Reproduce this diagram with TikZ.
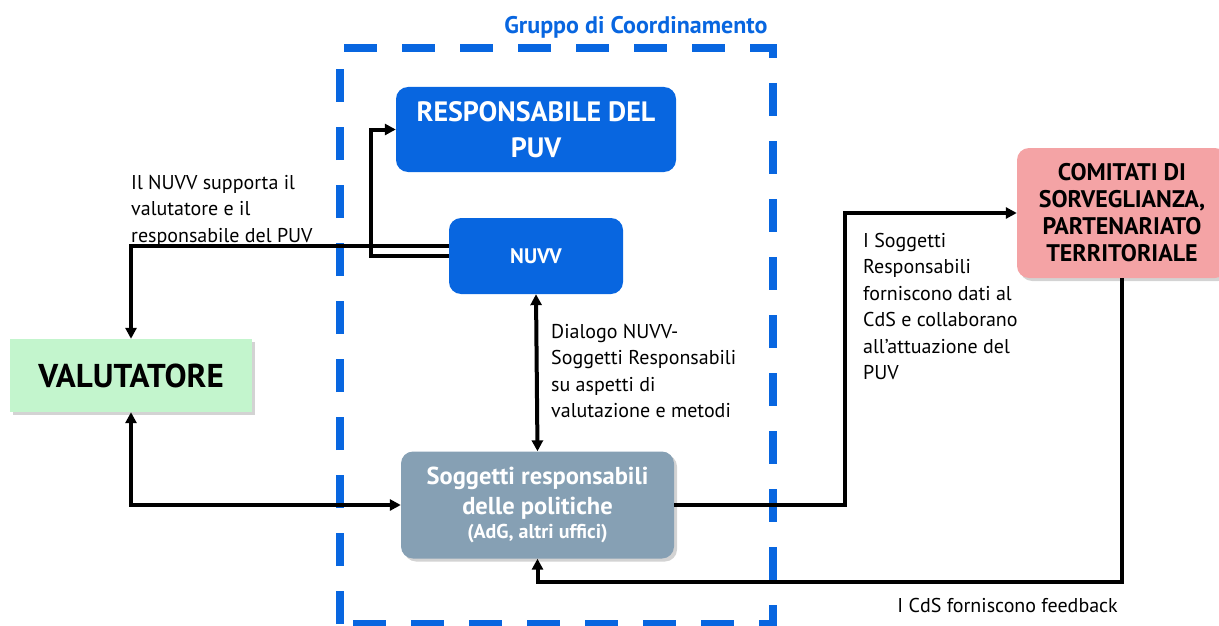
\documentclass[tikz,border=0pt]{standalone}
\usepackage{fontspec}
\setmainfont{PT Sans}
\usepackage{tikz}
\usetikzlibrary{arrows.meta,shadows,positioning}

\definecolor{puvblue}{HTML}{0866E0}
\definecolor{valgreen}{HTML}{C3F5CD}
\definecolor{sogggray}{HTML}{86A0B4}
\definecolor{cdspink}{HTML}{F4A3A5}

\begin{document}
\begin{tikzpicture}[x=1pt,y=-1pt,
    box/.style={rounded corners=12pt,inner sep=0pt,align=center,font=\bfseries},
    bluebox/.style={box,fill=puvblue,text=white},
    shade/.style={drop shadow={shadow xshift=3pt,shadow yshift=-3pt,opacity=0.35}},
    link/.style={line width=4pt,-{Triangle[length=11pt,width=11pt]}},
    dlink/.style={line width=4pt,{Triangle[length=11pt,width=11pt]}-{Triangle[length=11pt,width=11pt]}},
    note/.style={align=left,anchor=north west,inner sep=0pt,font=\fontsize{20}{26.5}\selectfont}]
   \useasboundingbox (0,0) rectangle (1219,626);

   % gruppo di coordinamento
   \draw[puvblue,line width=8pt,dash pattern=on 33pt off 25pt] (340,624) -- (340,48) -- (773,48) -- (773,624) -- cycle;
   \node[anchor=east,text=puvblue,font=\bfseries\fontsize{24}{26}\selectfont] (gruppo) at (771,27) {Gruppo di Coordinamento};

   % nodi
   \node[bluebox,minimum width=280pt,minimum height=85pt,font=\bfseries\fontsize{28}{36}\selectfont] (resp) at (536,129.5) {RESPONSABILE DEL\\PUV};
   \node[bluebox,minimum width=174pt,minimum height=76pt,font=\bfseries\fontsize{21}{24}\selectfont] (nuvv) at (536,256) {NUVV};
   \node[box,fill=valgreen,rounded corners=0pt,shade,minimum width=242pt,minimum height=73pt,font=\bfseries\fontsize{33}{36}\selectfont] (val) at (131,375.5) {VALUTATORE};
   \node[box,fill=sogggray,text=white,shade,minimum width=273pt,minimum height=107pt] (sogg) at (537.5,505)
      {{\fontsize{24.5}{30}\selectfont Soggetti responsabili}\\[7pt]{\fontsize{24.5}{30}\selectfont delle politiche}\\[4pt]{\fontsize{20}{24}\selectfont (AdG, altri uffici)}};
   \node[box,fill=cdspink,shade,minimum width=210pt,minimum height=130pt,font=\bfseries\fontsize{24}{27}\selectfont] (cds) at (1122,213) {COMITATI DI\\SORVEGLIANZA,\\PARTENARIATO\\TERRITORIALE};

   % connettori
   \draw[link] ([yshift=0pt]nuvv.west) -- ++(-78,0) |- (resp.west);
   \draw[link] ([yshift=10pt]nuvv.west) -| (val.north);
   \draw[dlink] (val.south) |- (sogg.west);
   \draw[dlink] (nuvv.south) -- (sogg.north);
   \draw[link] (sogg.east) -- (845,505) |- (cds.west);
   \draw[link] (cds.south) -- (1122,582) -| (sogg.south);

   % etichette
   \node[note] (lblnuvv) at (131,175) {Il NUVV supporta il\\valutatore e il\\responsabile del PUV};
   \node[note] (lbldial) at (551,324) {Dialogo NUVV-\\Soggetti Responsabili\\su aspetti di\\valutazione e metodi};
   \node[note] (lblsogg) at (863,233) {I Soggetti\\Responsabili\\forniscono dati al\\CdS e collaborano\\all’attuazione del\\PUV};
   \node[note,anchor=east] (lblcds) at (1118,605) {I CdS forniscono feedback};
\end{tikzpicture}
\end{document}
